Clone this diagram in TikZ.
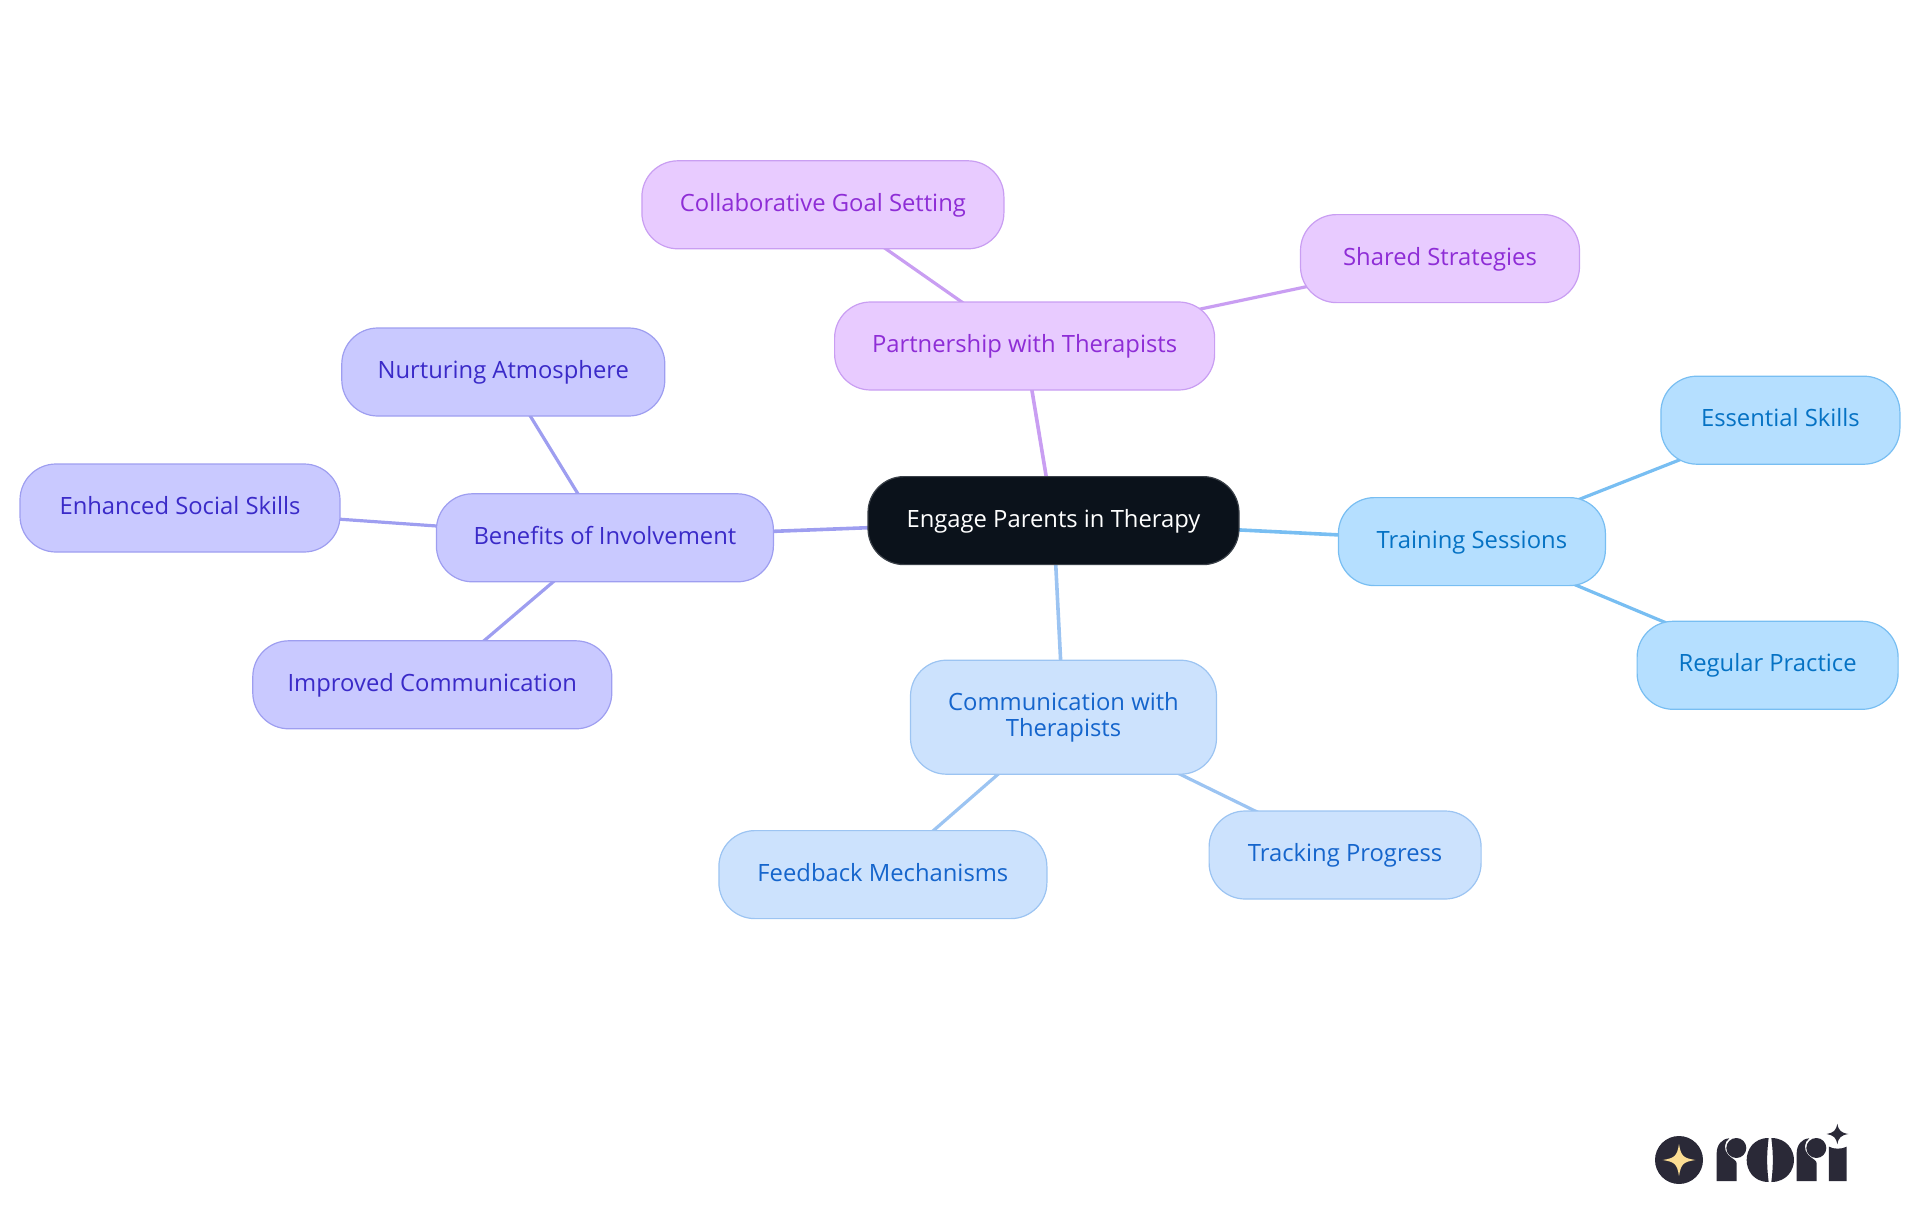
\documentclass[tikz,border=0pt]{standalone}
\usepackage{fontspec}
\setmainfont{Open Sans}
\usetikzlibrary{backgrounds}
\definecolor{logoink}{HTML}{2A2937}
\definecolor{logostar}{HTML}{FBDD93}
\tikzset{
  x=1pt,y=-1pt,
  mm/.style={draw,line width=1.2pt,rounded corners=36pt,minimum height=88pt,align=center,inner sep=0pt,text height=20pt,text depth=7pt,font=\fontsize{23.8}{26}\selectfont},
  rootn/.style={mm,fill=rootfill,draw=rootline,text=white},
  pur/.style={mm,fill=purfill,draw=purline,text=purtext},
  sky/.style={mm,fill=skyfill,draw=skyline,text=skytext},
  blu/.style={mm,fill=blufill,draw=bluline,text=blutext},
  ind/.style={mm,fill=indfill,draw=indline,text=indtext},
  edgeA/.style={line width=3.6pt},
  edgeB/.style={line width=3.2pt},
}
\definecolor{rootfill}{HTML}{0B121B}\definecolor{rootline}{HTML}{3A4048}
\definecolor{purfill}{HTML}{E8CBFF}\definecolor{purline}{HTML}{C99EF2}\definecolor{purtext}{HTML}{8E2DD6}
\definecolor{skyfill}{HTML}{B5DFFF}\definecolor{skyline}{HTML}{78BEF2}\definecolor{skytext}{HTML}{0572C4}
\definecolor{blufill}{HTML}{CCE2FD}\definecolor{bluline}{HTML}{9CC4F2}\definecolor{blutext}{HTML}{1565CC}
\definecolor{indfill}{HTML}{C9C9FF}\definecolor{indline}{HTML}{9E9EF0}\definecolor{indtext}{HTML}{3A2AC8}
\begin{document}
\begin{tikzpicture}
\useasboundingbox (0,0) rectangle (1920,1215);
\node[rootn,minimum width=371pt] (root) at (1053.5,520.6) {Engage Parents in Therapy};
\node[pur,minimum width=380pt] (part) at (1024.6,346) {Partnership with Therapists};
\node[pur,minimum width=362pt] (coll) at (822.9,204.8) {Collaborative Goal Setting};
\node[pur,minimum width=279pt] (shar) at (1440,258.6) {Shared Strategies};
\node[sky,minimum width=267pt] (train) at (1471.9,541.6) {Training Sessions};
\node[sky,minimum width=239pt] (ess) at (1780.4,420.2) {Essential Skills};
\node[sky,minimum width=261pt] (reg) at (1767.6,665.3) {Regular Practice};
\node[blu,minimum width=306pt,minimum height=114pt,text height=46pt] (comm) at (1063.5,717.2) {Communication with\\Therapists};
\node[blu,minimum width=328pt] (feed) at (882.9,874.6) {Feedback Mechanisms};
\node[blu,minimum width=272pt] (track) at (1345.1,855) {Tracking Progress};
\node[ind,minimum width=337pt] (ben) at (604.9,537.8) {Benefits of Involvement};
\node[ind,minimum width=323pt] (nur) at (503.3,372) {Nurturing Atmosphere};
\node[ind,minimum width=320pt] (enh) at (180,508) {Enhanced Social Skills};
\node[ind,minimum width=359pt] (imp) at (432.3,684.8) {Improved Communication};
\begin{scope}[on background layer]
\draw[edgeA,purline] (root.center) -- (part.center);
\draw[edgeB,purline] (part.center) -- (coll.center);
\draw[edgeB,purline] (part.center) -- (shar.center);
\draw[edgeA,skyline] (root.center) -- (train.center);
\draw[edgeB,skyline] (train.center) -- (ess.center);
\draw[edgeB,skyline] (train.center) -- (reg.center);
\draw[edgeA,bluline] (root.center) -- (comm.center);
\draw[edgeB,bluline] (comm.center) -- (feed.center);
\draw[edgeB,bluline] (comm.center) -- (track.center);
\draw[edgeA,indline] (root.center) -- (ben.center);
\draw[edgeB,indline] (ben.center) -- (nur.center);
\draw[edgeB,indline] (ben.center) -- (enh.center);
\draw[edgeB,indline] (ben.center) -- (imp.center);
\end{scope}
% logo, drawn in the coordinates of a 3x crop at (1620,1100)
\begin{scope}[shift={(1620,1100)},x=0.3333pt,y=-0.3333pt]
\fill[logoink] (177,180) circle[radius=72];
\fill[logostar] (177,132) .. controls (183,168) and (189,174) .. (226,180) .. controls (189,186) and (183,192) .. (177,228) .. controls (171,192) and (165,186) .. (128,180) .. controls (165,174) and (171,168) .. (177,132) -- cycle;
% first r
\fill[logoink] (290,243) -- (290,160) .. controls (290,135) and (305,116) .. (328,115) .. controls (312,125) and (310,150) .. (325,165) .. controls (338,178) and (350,180) .. (350,190) -- (350,243) -- cycle;
\fill[logoink] (349,144) circle[radius=30];
% o, with its thin slit
\fill[logoink] (446,114) .. controls (400,114) and (380,150) .. (380,180) .. controls (380,210) and (400,246) .. (446,246) .. controls (440,200) and (440,160) .. (446,114) -- cycle;
\fill[logoink] (454,114) .. controls (500,114) and (522,150) .. (522,180) .. controls (522,210) and (500,246) .. (454,246) .. controls (460,200) and (460,160) .. (454,114) -- cycle;
% second r
\fill[logoink] (530,243) -- (530,160) .. controls (530,135) and (545,116) .. (568,115) .. controls (552,125) and (550,150) .. (565,165) .. controls (578,178) and (590,180) .. (590,190) -- (590,243) -- cycle;
\fill[logoink] (589,144) circle[radius=30];
% i with its star
\fill[logoink] (627,243) -- (627,140) .. controls (640,148) and (666,148) .. (680,140) -- (680,243) -- cycle;
\fill[logoink] (652,71) .. controls (656,92) and (663,98) .. (685,102) .. controls (663,106) and (656,112) .. (652,133) .. controls (648,112) and (641,106) .. (620,102) .. controls (641,98) and (648,92) .. (652,71) -- cycle;
\end{scope}
\end{tikzpicture}
\end{document}
